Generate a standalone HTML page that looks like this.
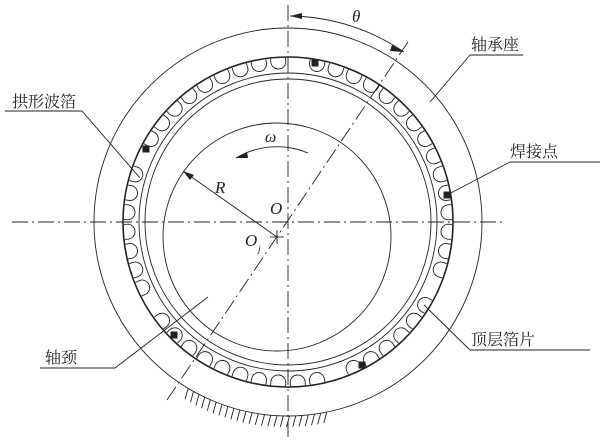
<!DOCTYPE html>
<html><head><meta charset="utf-8"><style>
html,body{margin:0;padding:0;background:#fff;width:616px;height:441px;overflow:hidden}
text{font-family:"Liberation Serif","Noto Serif CJK SC",serif;fill:#222}
.cn{font-family:"Liberation Serif","Noto Serif CJK SC",serif;font-size:16px}
</style></head><body>
<svg id="s" width="616" height="441" viewBox="0 0 616 441" xmlns="http://www.w3.org/2000/svg">
<g fill="none" stroke="#222" stroke-width="0.9">
<circle cx="288" cy="222" r="194"/>
<circle cx="288" cy="222" r="165" stroke-width="1.6"/>
<circle cx="288" cy="222" r="149"/>
<circle cx="288" cy="222" r="143"/>
<circle cx="277" cy="237" r="114"/>
<g stroke-dasharray="16,4,2,4">
<line x1="12" y1="222" x2="505" y2="222"/>
<line x1="288" y1="5" x2="288" y2="438"/>
<line x1="167" y1="400" x2="408" y2="42"/>
</g>
<path d="M290,16 A206,206 0 0 1 404,52"/>
<path d="M236,158 A80,80 0 0 1 308,153"/>
<line x1="277" y1="237" x2="183" y2="171"/>
<line x1="270" y1="237" x2="284" y2="237"/><line x1="277" y1="230" x2="277" y2="244"/>
<polyline points="470,55 523,55"/><line x1="470" y1="55" x2="430" y2="102"/>
<polyline points="5,111 82,111"/><line x1="82" y1="111" x2="140" y2="178"/>
<polyline points="510,162 600,162"/><line x1="510" y1="162" x2="447" y2="195"/>
<polyline points="40,368 115,368"/><line x1="115" y1="368" x2="208" y2="297"/>
<polyline points="470,350 590,350"/><line x1="470" y1="350" x2="424" y2="305"/>
<g id="bumps"></g>
<g id="hatch"></g>
</g>
<g fill="#222">
<polygon points="290,16 302,13 302,19"/>
<polygon points="404,52 392,45 390,51"/>
<polygon points="236,158 247,152 248,158"/>
<polygon points="183,171 194,175 190,180"/>
<g id="welds"></g>
</g>
<text x="352" y="22" font-style="italic" font-size="17">θ</text>
<text x="265" y="142" font-style="italic" font-size="16">ω</text>
<text x="215" y="193" font-style="italic" font-size="17">R</text>
<text x="270" y="214" font-style="italic" font-size="17">O</text>
<text x="245" y="246" font-style="italic" font-size="17">O</text>
<text x="258" y="252" font-style="italic" font-size="9">j</text>
<text class="cn" x="471" y="50">轴承座</text>
<text class="cn" x="12" y="107">拱形波箔</text>
<text class="cn" x="510" y="157">焊接点</text>
<text class="cn" x="45" y="363">轴颈</text>
<text class="cn" x="471" y="345">顶层箔片</text>
</svg>
<script>
(function(){
var ns="http://www.w3.org/2000/svg",cx=288,cy=222;
function P(r,a){return [cx+r*Math.sin(a),cy-r*Math.cos(a)];}
var b=document.getElementById("bumps"),d="";
var N=52;
for(var i=0;i<N;i++){var a=(i+0.5)/N*2*Math.PI;
 var deg=a*180/Math.PI;
 if(deg<8||deg>357||Math.abs(deg-114)<4||Math.abs(deg-162)<4||Math.abs(deg-240)<4||Math.abs(deg-296)<4)continue;
 var ux=Math.cos(a),uy=Math.sin(a),r=7.5;
 var pt=P(164,a),md=P(160,a);
 var x1=pt[0]-r*ux,y1=pt[1]-r*uy,x2=pt[0]+r*ux,y2=pt[1]+r*uy;
 var m1x=md[0]-r*ux,m1y=md[1]-r*uy,m2x=md[0]+r*ux,m2y=md[1]+r*uy;
 d+="M"+x1.toFixed(1)+","+y1.toFixed(1)+"L"+m1x.toFixed(1)+","+m1y.toFixed(1)+"A"+r+","+r+" 0 0 0 "+m2x.toFixed(1)+","+m2y.toFixed(1)+"L"+x2.toFixed(1)+","+y2.toFixed(1);}
var p=document.createElementNS(ns,"path");p.setAttribute("d",d);b.appendChild(p);
var w=document.getElementById("welds");
[[315,63],[146,149],[447,195],[174,335],[362,365]].forEach(function(q){
 var e=document.createElementNS(ns,"rect");e.setAttribute("x",q[0]-3.5);e.setAttribute("y",q[1]-3.5);e.setAttribute("width",7);e.setAttribute("height",7);w.appendChild(e);});
var h=document.getElementById("hatch"),hd="";
for(var k=0;k<24;k++){var dg=-31+k*1.85,t=dg*Math.PI/180;
 var x=cx+194*Math.sin(t),y=cy+194*Math.cos(t);
 hd+="M"+x.toFixed(1)+","+y.toFixed(1)+"l-3,11";}
var hp=document.createElementNS(ns,"path");hp.setAttribute("d",hd);h.appendChild(hp);
})();
</script>
</body></html>
